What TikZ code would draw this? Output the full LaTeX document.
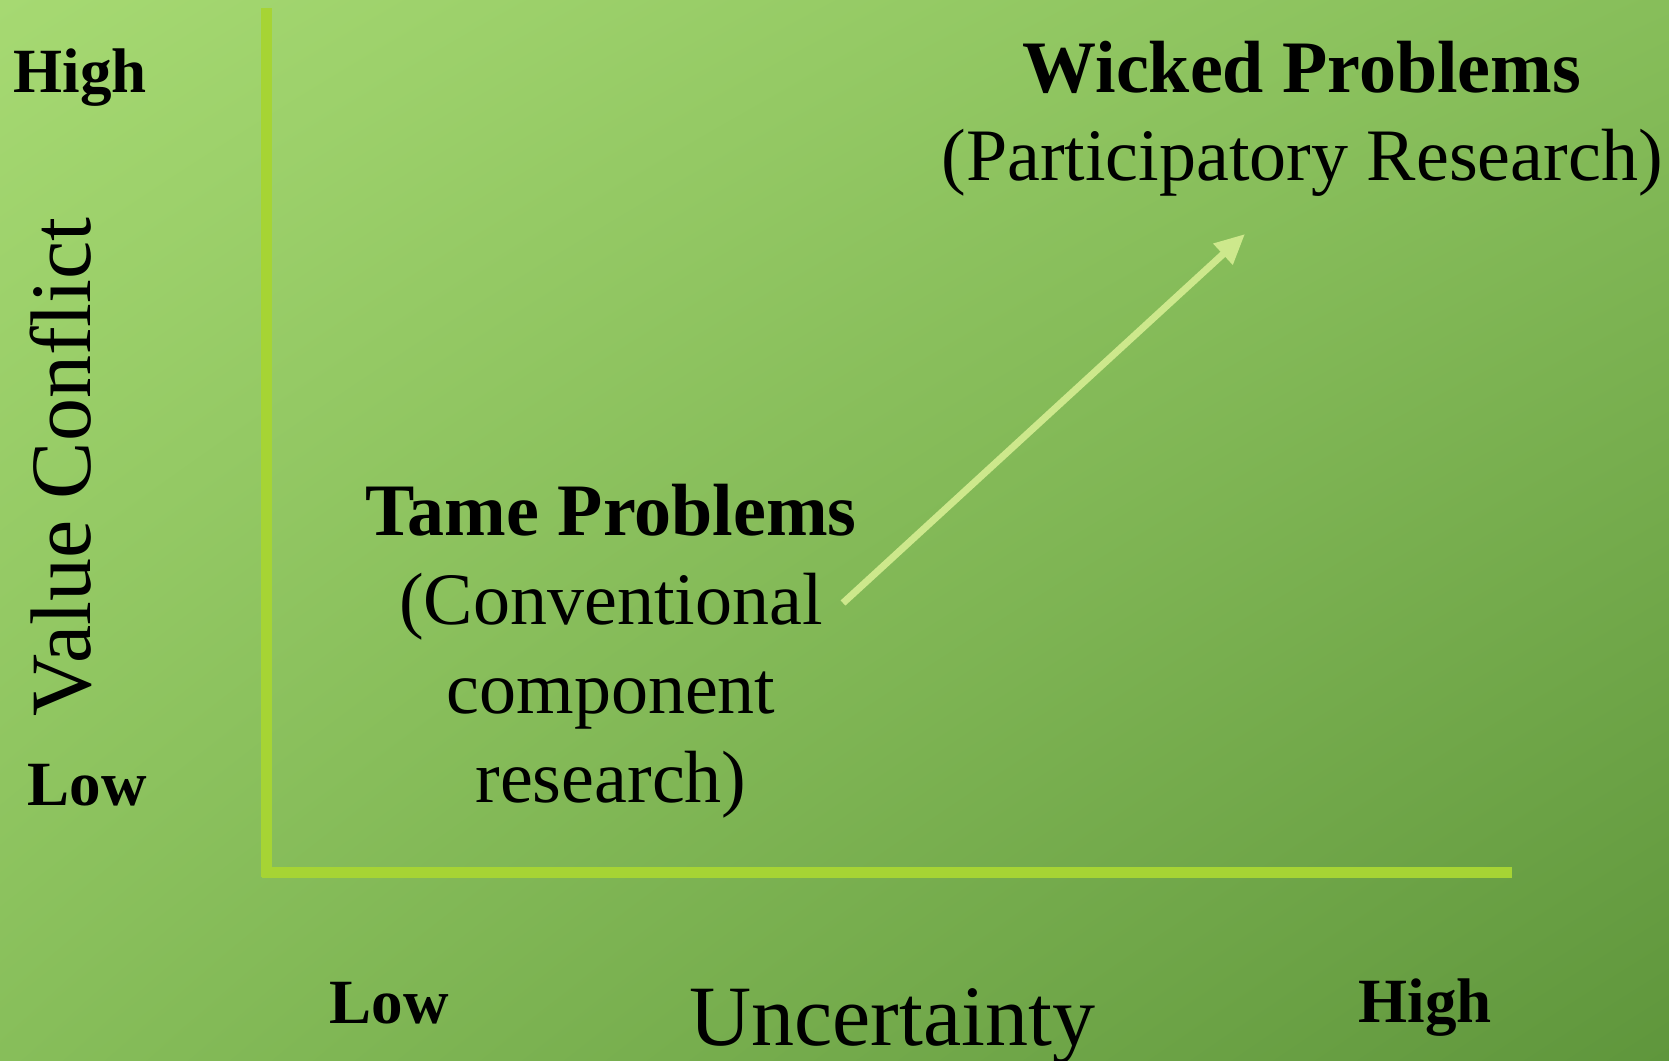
\documentclass[tikz,border=0pt]{standalone}
\usepackage{fontspec}
\setmainfont{Liberation Serif}
\usetikzlibrary{arrows.meta, positioning, shadings}
\usepackage{xcolor}

\definecolor{bgtl}{RGB}{166,217,114}
\definecolor{bgmid}{RGB}{135,190,90}
\definecolor{bgbr}{RGB}{95,150,60}
\definecolor{axisgreen}{RGB}{166,212,52}
\definecolor{arrowgreen}{RGB}{205,232,140}

\begin{document}
\begin{tikzpicture}[x=1pt, y=-1pt,
  axisline/.style={line width=11pt, draw=axisgreen},
  level/.style={font=\fontsize{63}{70}\selectfont\bfseries, inner sep=0pt},
  axistitle/.style={font=\fontsize{86}{96}\selectfont, inner sep=0pt},
  problem/.style={align=center, inner sep=0pt, anchor=base},
  arrow/.style={-{Triangle[length=30pt, width=27pt]}, line width=7pt, draw=arrowgreen}
]
\useasboundingbox (0,0) rectangle (1669,1060);
\shade[upper left=bgtl, upper right=bgmid, lower left=bgmid, lower right=bgbr]
  (0,0) rectangle (1669,1060);

% axes
\coordinate (ytop) at (266,8);
\coordinate (origin) at (266,872);
\coordinate (xend) at (1512,872);
\draw [axisline] (ytop) -- ([yshift=-5pt]origin);
\draw [axisline] ([xshift=-4pt]origin) -- (xend);

% value conflict axis
\node (vhigh) [level, anchor=base east] at (147,92) {High};
\node (vlow) [level, anchor=base east] at (147,805) {Low};
\node (vtitle) [axistitle, rotate=90, anchor=base] at (90,467) {Value Conflict};

% uncertainty axis
\node (ulow) [level, anchor=base] at (389,1023) {Low};
\node (uhigh) [level, anchor=base] at (1425,1022) {High};
\node (utitle) [axistitle, anchor=base] at (892,1045) {Uncertainty};

% the two kinds of problem (base = last line)
\node (tame) [problem, font=\fontsize{74}{89}\selectfont] at (611,802)
  {\textbf{Tame Problems}\\(Conventional\\component\\research)};
\node (wicked) [problem, font=\fontsize{74}{88}\selectfont] at (1302,180)
  {\textbf{Wicked Problems}\\(Participatory Research)};

\coordinate (from) at (843,603);
\coordinate (to) at (1245,234);
\draw [arrow] (from) -- (to);

\end{tikzpicture}
\end{document}
